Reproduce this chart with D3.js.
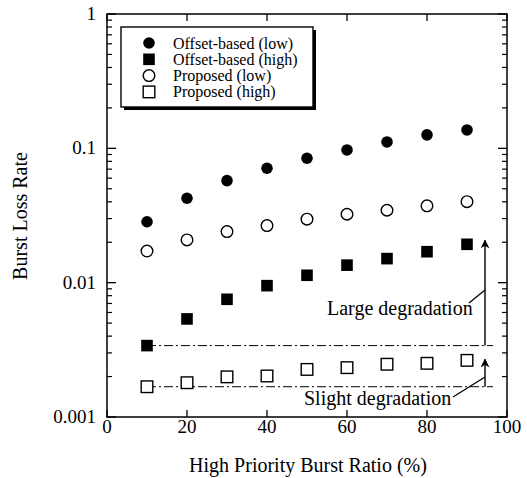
<!DOCTYPE html>
<html><head><meta charset="utf-8">
<script src="https://cdn.jsdelivr.net/npm/d3@7"></script>
<style>body{margin:0;background:#fff}svg{display:block}text{font-family:"Liberation Serif","DejaVu Serif",serif;fill:#000}</style>
</head><body><svg id="c" width="527" height="478"></svg>
<script>
const xs = [10,20,30,40,50,60,70,80,90];
const offsetLow  = [0.0284,0.0425,0.0575,0.0711,0.0844,0.0973,0.1116,0.126,0.137];
const offsetHigh = [0.0034,0.00537,0.00752,0.0095,0.01135,0.0135,0.0151,0.0170,0.0193];
const propLow    = [0.0172,0.0208,0.024,0.0266,0.0297,0.0323,0.0346,0.0373,0.0401];
const propHigh   = [0.00168,0.0018,0.00199,0.00202,0.00226,0.00233,0.00247,0.00251,0.00264];
const seriesNames = ["Offset-based (low)","Offset-based (high)","Proposed (low)","Proposed (high)"];
const xTicks = [0,20,40,60,80,100];
const yTicks = [0.001,0.01,0.1,1];
const yTickLabels = ["0.001","0.01","0.1","1"];

const svg = d3.select("#c");
const L=107,R=507,T=14,B=417;
const x = d3.scaleLinear().domain([0,100]).range([L,R]);
const y = d3.scaleLog().domain([0.001,1]).range([B,T]);

const series = [
  {name:seriesNames[0], vals:offsetLow, shape:"circle", fill:true},
  {name:seriesNames[1], vals:offsetHigh, shape:"square", fill:true},
  {name:seriesNames[2], vals:propLow, shape:"circle", fill:false},
  {name:seriesNames[3], vals:propHigh, shape:"square", fill:false}
];

// minor ticks
const minor = [];
for (let e=-3;e<0;e++) for (let k=2;k<=9;k++) minor.push(k*Math.pow(10,e));
const g = svg.append("g");
g.selectAll(".ml").data(minor).join("line").attr("x1",L).attr("x2",L+5).attr("y1",d=>y(d)).attr("y2",d=>y(d)).attr("stroke","#000").attr("stroke-width",1.2);
g.selectAll(".mr").data(minor).join("line").attr("x1",R).attr("x2",R-5).attr("y1",d=>y(d)).attr("y2",d=>y(d)).attr("stroke","#000").attr("stroke-width",1.2);
g.selectAll(".Ml").data(yTicks).join("line").attr("x1",L).attr("x2",L+9).attr("y1",d=>y(d)).attr("y2",d=>y(d)).attr("stroke","#000").attr("stroke-width",1.3);
g.selectAll(".Mr").data(yTicks).join("line").attr("x1",R).attr("x2",R-9).attr("y1",d=>y(d)).attr("y2",d=>y(d)).attr("stroke","#000").attr("stroke-width",1.3);
g.selectAll(".xb").data(xTicks).join("line").attr("x1",d=>x(d)).attr("x2",d=>x(d)).attr("y1",B).attr("y2",B-7).attr("stroke","#000").attr("stroke-width",1.3);
g.selectAll(".xt").data(xTicks).join("line").attr("x1",d=>x(d)).attr("x2",d=>x(d)).attr("y1",T).attr("y2",T+7).attr("stroke","#000").attr("stroke-width",1.3);
svg.append("rect").attr("x",L).attr("y",T).attr("width",R-L).attr("height",B-T).attr("fill","none").attr("stroke","#000").attr("stroke-width",1.5);

// tick labels
svg.selectAll(".yl").data(yTicks).join("text").attr("x",L-11).attr("y",d=>y(d)+6).attr("text-anchor","end").attr("font-size",19).text((d,i)=>yTickLabels[i]);
svg.selectAll(".xl").data(xTicks).join("text").attr("x",d=>x(d)).attr("y",B+16).attr("text-anchor","middle").attr("font-size",19).text(d=>d);

svg.append("text").attr("x",(L+R)/2+1).attr("y",472).attr("text-anchor","middle").attr("font-size",20).text("High Priority Burst Ratio (%)");
svg.append("text").attr("transform","translate(27,216) rotate(-90)").attr("text-anchor","middle").attr("font-size",20).text("Burst Loss Rate");

// reference dash-dot lines
const refX1 = 10, refX2 = 96.5, arrowX = 94.5;
[offsetHigh[0], propHigh[0]].forEach(v=>{
  svg.append("line").attr("x1",x(refX1)).attr("x2",x(refX2)).attr("y1",y(v)).attr("y2",y(v))
    .attr("stroke","#000").attr("stroke-width",1).attr("stroke-dasharray","9,3,2,3");
});

// markers
function drawMarker(sel, shape, fill){
  if(shape==="circle") sel.append("circle").attr("r",5.8).attr("fill",fill?"#000":"#fff").attr("stroke","#000").attr("stroke-width",fill?0:1.4);
  else sel.append("rect").attr("x",-5.8).attr("y",-5.8).attr("width",11.6).attr("height",11.6).attr("fill",fill?"#000":"#fff").attr("stroke","#000").attr("stroke-width",fill?0:1.4);
}
series.forEach(s=>{
  s.vals.forEach((v,i)=>{
    const m = svg.append("g").attr("transform",`translate(${x(xs[i])},${y(v)})`);
    drawMarker(m,s.shape,s.fill);
  });
});

// arrows
const defs = svg.append("defs");
defs.append("marker").attr("id","ah").attr("viewBox","0 0 10 10").attr("refX",9).attr("refY",5)
  .attr("markerWidth",12).attr("markerHeight",9).attr("markerUnits","userSpaceOnUse").attr("orient","auto")
  .append("path").attr("d","M0,0 L10,5 L0,10 L3,5 Z").attr("fill","#000");
svg.append("line").attr("x1",x(arrowX)).attr("x2",x(arrowX)).attr("y1",y(offsetHigh[0])).attr("y2",y(offsetHigh[8])-4)
  .attr("stroke","#000").attr("stroke-width",1.4).attr("marker-end","url(#ah)");
svg.append("line").attr("x1",x(arrowX)).attr("x2",x(arrowX)).attr("y1",y(propHigh[0])).attr("y2",y(propHigh[8])-1)
  .attr("stroke","#000").attr("stroke-width",1.4).attr("marker-end","url(#ah)");

// annotations
svg.append("text").attr("x",327).attr("y",315).attr("font-size",20).text("Large degradation");
svg.append("line").attr("x1",469).attr("y1",303).attr("x2",x(arrowX)).attr("y2",290).attr("stroke","#000").attr("stroke-width",1.3);
svg.append("text").attr("x",304).attr("y",405).attr("font-size",20).text("Slight degradation");
svg.append("line").attr("x1",453).attr("y1",397).attr("x2",x(arrowX)).attr("y2",377).attr("stroke","#000").attr("stroke-width",1.3);

// legend
const lg = svg.append("g");
lg.append("rect").attr("x",124).attr("y",30).attr("width",192).attr("height",80).attr("fill","#000");
lg.append("rect").attr("x",121).attr("y",27).attr("width",192).attr("height",80).attr("fill","#fff").attr("stroke","#000").attr("stroke-width",1.4);
series.forEach((s,i)=>{
  const yy = 43 + i*16.3;
  const m = lg.append("g").attr("transform",`translate(149,${yy})`);
  drawMarker(m,s.shape,s.fill);
  lg.append("text").attr("x",173).attr("y",yy+5.5).attr("font-size",16).text(s.name);
});
</script></body></html>
